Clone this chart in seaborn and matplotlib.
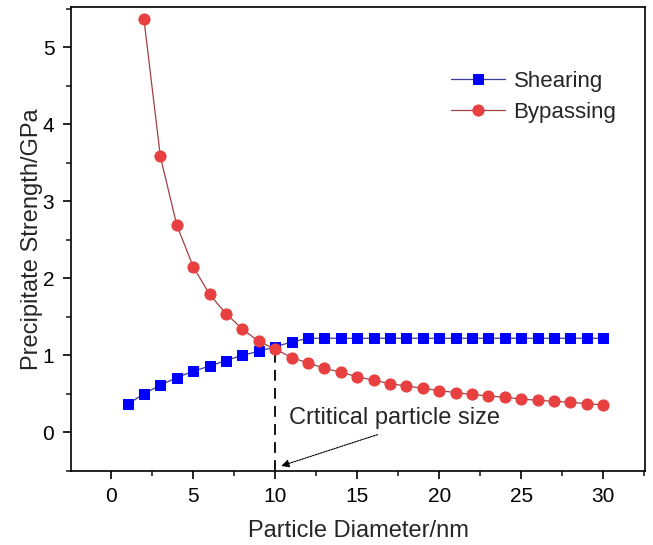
import matplotlib
matplotlib.use("Agg")
import matplotlib.pyplot as plt
import seaborn as sns
import pandas as pd
from matplotlib.ticker import MultipleLocator

sns.set_theme(style="ticks")
plt.rcParams['font.family'] = ['Liberation Sans', 'DejaVu Sans']

shear_x = list(range(1, 31))
shear_y = [0.36, 0.50, 0.61, 0.71, 0.79, 0.86, 0.93, 1.00, 1.05, 1.11, 1.17] + [1.22] * 19
bypass_x = list(range(2, 31))
bypass_y = [5.36, 3.58, 2.69, 2.15, 1.79, 1.54, 1.34, 1.18, 1.08, 0.97, 0.90, 0.83,
            0.78, 0.72, 0.675, 0.63, 0.60, 0.57, 0.54, 0.515, 0.49, 0.47, 0.455,
            0.43, 0.415, 0.40, 0.39, 0.37, 0.355]
critical_x = 10
annot_text = "Crtitical particle size"

df_s = pd.DataFrame({"x": shear_x, "y": shear_y})
df_b = pd.DataFrame({"x": bypass_x, "y": bypass_y})

fig = plt.figure(figsize=(6.53, 5.45), dpi=100)
ax = fig.add_axes([0.1087, 0.1363, 0.879, 0.8507])

sns.lineplot(data=df_s, x="x", y="y", ax=ax, color="#3b3b9a", lw=0.9,
             marker="s", markersize=7.5, markerfacecolor="#0000ff",
             markeredgecolor="#0000ff", label="Shearing")
sns.lineplot(data=df_b, x="x", y="y", ax=ax, color="#a04040", lw=0.9,
             marker="o", markersize=8, markerfacecolor="#e84040",
             markeredgecolor="#e84040", label="Bypassing")

ax.plot([critical_x, critical_x], [-0.5, 1.08], ls=(0, (6, 4)), color="black", lw=1.3, zorder=1)
ax.annotate("", xy=(10.2, -0.45), xytext=(16.4, -0.02),
            arrowprops=dict(arrowstyle="-|>", ls=(0, (1.5, 1)), lw=0.8, color="black",
                            mutation_scale=12))
ax.text(10.85, 0.18, annot_text, fontsize=17, va="center", ha="left")

ax.set_xlim(-2.45, 32.55)
ax.set_ylim(-0.5, 5.52)
ax.xaxis.set_major_locator(MultipleLocator(5))
ax.xaxis.set_minor_locator(MultipleLocator(2.5))
ax.yaxis.set_major_locator(MultipleLocator(1))
ax.yaxis.set_minor_locator(MultipleLocator(0.5))
ax.tick_params(which="major", direction="out", length=6, width=1.2, labelsize=15,
               top=False, right=False, colors="black", pad=6)
ax.tick_params(which="minor", direction="out", length=3.5, width=1.2, top=False, right=False)
for s in ax.spines.values():
    s.set_linewidth(1.2)
    s.set_color("black")

ax.set_xlabel("Particle Diameter/nm", fontsize=17, labelpad=10)
ax.set_ylabel("Precipitate Strength/GPa", fontsize=17, labelpad=0)

ax.legend(loc="upper right", bbox_to_anchor=(0.985, 0.905), frameon=False, fontsize=16,
          handlelength=2.4, handletextpad=0.4, labelspacing=0.45)

fig.savefig("out.png", dpi=100)
